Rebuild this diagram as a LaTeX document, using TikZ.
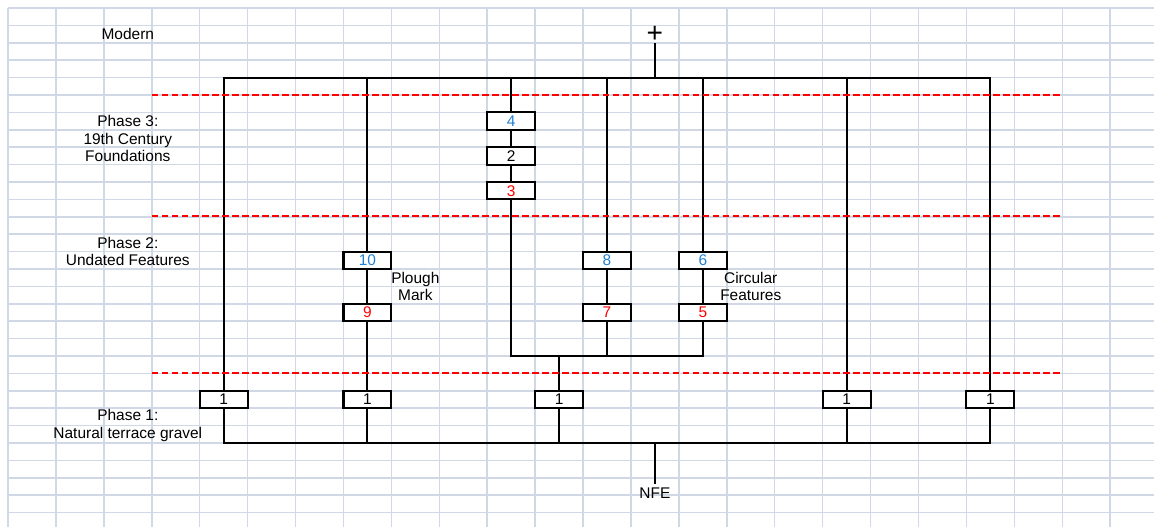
\documentclass[tikz,border=0pt]{standalone}
\usepackage{xcolor}
\usepackage{fontspec}
\setmainfont{Liberation Sans}
\usepackage{tikz}
\usetikzlibrary{positioning}
\definecolor{gridgrey}{HTML}{D0D7E5}
\definecolor{ctxblue}{HTML}{2080D2}

\begin{document}
\begin{tikzpicture}[
    x=0.9584cm, y=-0.348cm,
    every node/.style={font=\fontsize{8.8}{9.87}\selectfont, inner sep=0pt, align=center},
    ctx/.style={draw, line width=1.2pt, fill=white, minimum width=0.958cm, minimum height=0.348cm},
    link/.style={line width=1.2pt},
    phaseline/.style={color=red, line width=1.15pt, dash pattern=on 3.8pt off 1.9pt},
    gridline/.style={color=gridgrey, line width=0.85pt}
]
\useasboundingbox (-0.167,-0.46) rectangle (23.915,29.83);
\foreach \c in {0,...,23} \draw[gridline] (\c,0) -- (\c,29.83);
\foreach \r in {0,...,29} \draw[gridline] (0,\r) -- (23.915,\r);

\node (modern) at (2.5,1.5) {Modern};
\node (ph3) at (2.5,7.5) {Phase 3:\\19th Century\\Foundations};
\node (ph2) at (2.5,14) {Phase 2:\\Undated Features};
\node (ph1) at (2.5,24) {Phase 1:\\Natural terrace gravel};
\node (plough) at (8.5,16) {Plough\\Mark};
\node (circ) at (15.5,16) {Circular\\Features};

\node (plus) [anchor=south, font=\fontsize{16}{16}\selectfont] at (13.5,2) {+};
\node (nfe) [inner ysep=2.3pt] at (13.5,27.9) {NFE};

\node[ctx, text=ctxblue] (c4) at (10.5,6.5) {4};
\node[ctx] (c2) at (10.5,8.5) {2};
\node[ctx, text=red] (c3) at (10.5,10.5) {3};
\node[ctx, text=ctxblue] (c10) at (7.5,14.5) {10};
\node[ctx, text=red] (c9) at (7.5,17.5) {9};
\node[ctx, text=ctxblue] (c8) at (12.5,14.5) {8};
\node[ctx, text=red] (c7) at (12.5,17.5) {7};
\node[ctx, text=ctxblue] (c6) at (14.5,14.5) {6};
\node[ctx, text=red] (c5) at (14.5,17.5) {5};
\foreach \i/\c in {a/4.5, b/7.5, c/11.5, d/17.5, e/20.5}
    \node[ctx] (n1\i) at (\c,22.5) {1};

\coordinate (topL) at (4.5,4);
\coordinate (topM) at (13.5,4);
\coordinate (topR) at (20.5,4);
\coordinate (botL) at (4.5,25);
\coordinate (botM) at (13.5,25);
\coordinate (botR) at (20.5,25);
\coordinate (joinL) at (10.5,20);
\coordinate (joinM) at (11.5,20);
\coordinate (joinR) at (14.5,20);

\draw[link] (n1a) -- (topL) -- (topR) -- (n1e);
\draw[link] (n1a) -- (botL) -- (botR) -- (n1e);
\draw[link] (topM) -- (plus);
\draw[link] (botM) -- (nfe);

\draw[link] (c10 |- topL) -- (c10);
\draw[link] (c10) -- (c9);
\draw[link] (c9) -- (n1b);
\draw[link] (n1b) -- (n1b |- botL);

\draw[link] (c4 |- topL) -- (c4);
\draw[link] (c4) -- (c2);
\draw[link] (c2) -- (c3);
\draw[link] (c3) -- (joinL) -- (joinR) -- (c5);
\draw[link] (joinM) -- (n1c);
\draw[link] (n1c) -- (n1c |- botL);

\draw[link] (c8 |- topL) -- (c8);
\draw[link] (c8) -- (c7);
\draw[link] (c7) -- (c7 |- joinL);

\draw[link] (c6 |- topL) -- (c6);
\draw[link] (c6) -- (c5);

\draw[link] (n1d |- topL) -- (n1d);
\draw[link] (n1d) -- (n1d |- botL);

\foreach \r in {5,11.95,21}
    \draw[phaseline] (3,\r) -- (22,\r);
\end{tikzpicture}
\end{document}
